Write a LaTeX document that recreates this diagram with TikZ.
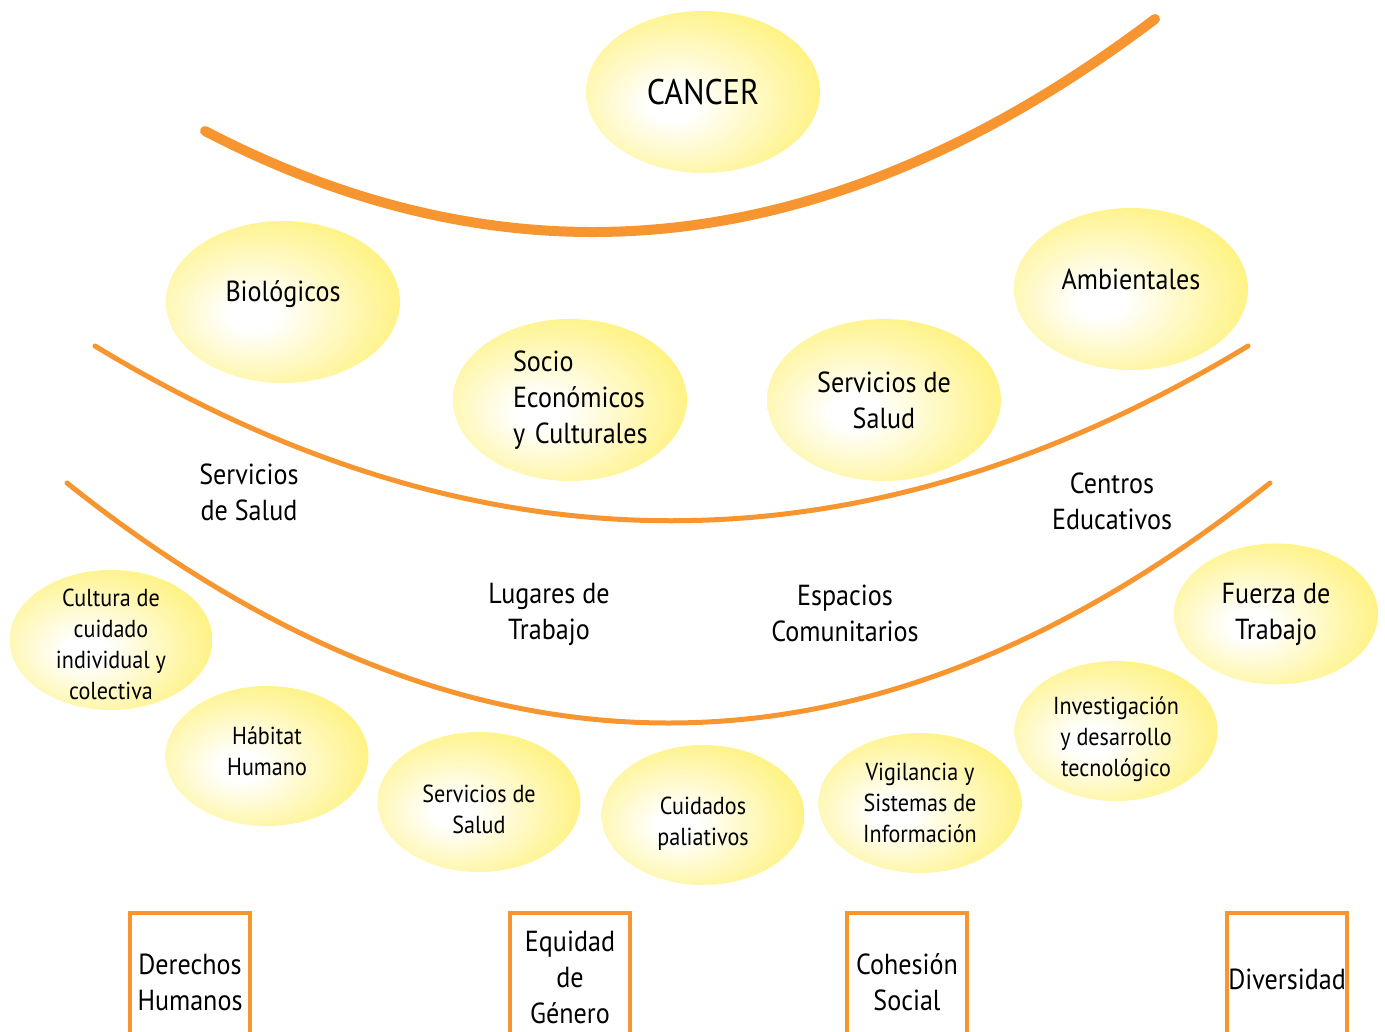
\documentclass[tikz,border=0pt]{standalone}
\usepackage{fontspec}
\setmainfont{PT Sans}[FakeStretch=0.9]
\usetikzlibrary{shapes.geometric}
\definecolor{bandorange}{RGB}{247,150,48}
\definecolor{ballyellow}{RGB}{255,238,92}
\pgfdeclareradialshading{glow}{\pgfpoint{-7bp}{-4bp}}{color(0bp)=(white); color(5bp)=(white); color(38bp)=(ballyellow); color(80bp)=(ballyellow)}
\begin{document}
\begin{tikzpicture}[x=.5pt,y=-.5pt]
      \tikzstyle{ball} = [ellipse,shading=glow,draw=none,inner sep=-6pt,align=center,font=\fontsize{14.5}{18}\selectfont,minimum width=117pt,minimum height=81pt];
      \tikzstyle{smallball} = [ball,inner sep=-12pt,font=\fontsize{12.3}{15.5}\selectfont,minimum width=101.5pt,minimum height=70pt];
      \tikzstyle{place} = [align=center,font=\fontsize{14.5}{18}\selectfont];
      \tikzstyle{band} = [bandorange,line cap=round,line width=2.5pt];
      \tikzstyle{frame} = [bandorange,line width=2pt];
      \useasboundingbox (0,0) rectangle (1385,1032);
      % arcs
      \draw [band,line width=5pt] (205,131) .. controls (522,296) and (838,259) .. (1155,19);
      \draw [band] (95,346) .. controls (479,579) and (863,579) .. (1248,346);
      \draw [band] (67,483) .. controls (468,803) and (869,803) .. (1270,483);
      % factors
      \node [ball,font=\fontsize{17.8}{20}\selectfont] (cancer) at (703,92) {CANCER};
      \node [ball,text depth=11pt] (biologicos) at (283,302) {Biológicos};
      \node [ball,text depth=10pt] (ambientales) at (1131,289) {Ambientales};
      \node [ball,align=left,text width=57pt] (socio) at (570,400) {Socio\\\mbox{Económicos}\\\mbox{y Culturales}};
      \node [ball] (servicios) at (884,400) {Servicios de\\Salud};
      % settings
      \node [place] (salud) at (249,492) {Servicios\\de Salud};
      \node [place] (centros) at (1112,501) {Centros\\Educativos};
      \node [place] (lugares) at (549,614) {Lugares de\\Trabajo};
      \node [place] (espacios) at (845,613) {Espacios\\Comunitarios};
      % actions
      \node [smallball,text height=59.4pt] (cultura) at (111,640) {Cultura de\\cuidado\\individual y\\colectiva};
      \node [ball,minimum width=102pt,minimum height=70.5pt] (fuerza) at (1276,614) {Fuerza de\\Trabajo};
      \node [smallball,text depth=5pt] (habitat) at (267,756) {Hábitat\\Humano};
      \node [smallball,text height=31.4pt] (serviciosb) at (479,802) {Servicios de\\Salud};
      \node [smallball,text height=33.4pt] (cuidados) at (703,815) {Cuidados\\paliativos};
      \node [smallball] (vigilancia) at (920,803) {Vigilancia y\\Sistemas de\\Información};
      \node [smallball,text height=48.5pt] (investigacion) at (1116,731) {Investigación\\y desarrollo\\tecnológico};
      % principles
      \draw [frame] (130,1040) -- (130,913) -- (250,913) -- (250,1040);
      \draw [frame] (510,1040) -- (510,913) -- (630,913) -- (630,1040);
      \draw [frame] (847,1040) -- (847,913) -- (967,913) -- (967,1040);
      \draw [frame] (1227,1040) -- (1227,913) -- (1347,913) -- (1347,1040);
      \node [place] (derechos) at (190,982) {Derechos\\Humanos};
      \node [place] (equidad) at (570,977) {Equidad\\de\\Género};
      \node [place] (cohesion) at (907,982) {Cohesión\\Social};
      \node [place] (diversidad) at (1287,979) {Diversidad};
    \end{tikzpicture}
\end{document}
